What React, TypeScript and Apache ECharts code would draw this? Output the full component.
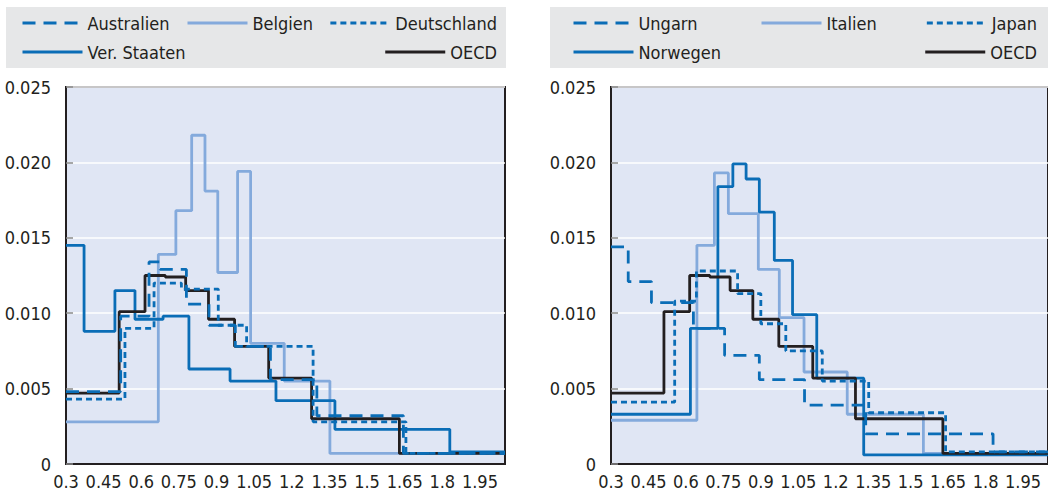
import React, { useEffect, useRef } from "react";
import * as echarts from "echarts";

const FONT = "'Liberation Sans Narrow', 'Arial Narrow', 'DejaVu Sans Condensed', sans-serif";
const TEXT = "#231f20";
const BLUE = "#0a6db6";
const LIGHT = "#84aadc";
const BLACK = "#231f20";

// x range and ticks
const xMin = 0.3;
const xMax = 2.05;
const xStep = 0.15;
const yMax = 0.025;
const yStep = 0.005;

// Left panel
const australien: [number, number][] = [
  [0.3, 0.0048], [0.518, 0.0098], [0.631, 0.0134], [0.675, 0.0129], [0.78, 0.0106],
  [0.87, 0.0092], [0.975, 0.0078], [1.115, 0.0056], [1.3, 0.0032], [1.645, 0.0007], [2.05, 0.0007],
];
const belgien: [number, number][] = [
  [0.3, 0.0028], [0.668, 0.0139], [0.738, 0.0168], [0.801, 0.0218], [0.854, 0.0181],
  [0.905, 0.0127], [0.984, 0.0194], [1.036, 0.008], [1.17, 0.0055], [1.352, 0.0007], [2.05, 0.0007],
];
const deutschland: [number, number][] = [
  [0.3, 0.0043], [0.535, 0.009], [0.651, 0.012], [0.76, 0.0116], [0.907, 0.0092],
  [1.02, 0.0078], [1.285, 0.0028], [1.655, 0.0007], [2.05, 0.0007],
];
const verStaaten: [number, number][] = [
  [0.3, 0.0145], [0.372, 0.0088], [0.495, 0.0115], [0.575, 0.0096], [0.687, 0.0098],
  [0.79, 0.0063], [0.954, 0.0055], [1.137, 0.0042], [1.372, 0.0023], [1.83, 0.0008], [2.05, 0.0008],
];
const oecd: [number, number][] = [
  [0.3, 0.0047], [0.512, 0.0101], [0.615, 0.0125], [0.696, 0.0124], [0.777, 0.0115],
  [0.868, 0.0096], [0.972, 0.0078], [1.108, 0.0057], [1.279, 0.003], [1.629, 0.0007], [2.05, 0.0007],
];

// Right panel
const ungarn: [number, number][] = [
  [0.3, 0.0144], [0.369, 0.0121], [0.462, 0.0107], [0.63, 0.009], [0.755, 0.0072],
  [0.894, 0.0056], [1.075, 0.0039], [1.32, 0.002], [1.83, 0.0008], [2.05, 0.0008],
];
const italien: [number, number][] = [
  [0.3, 0.0029], [0.644, 0.0145], [0.714, 0.0193], [0.77, 0.0166], [0.89, 0.0129],
  [0.974, 0.0097], [1.073, 0.0061], [1.246, 0.0033], [1.551, 0.0007], [2.05, 0.0007],
];
const japan: [number, number][] = [
  [0.3, 0.0041], [0.555, 0.0108], [0.642, 0.0128], [0.807, 0.0113], [0.9, 0.0093],
  [1.0, 0.0075], [1.146, 0.0055], [1.332, 0.0034], [1.64, 0.0008], [2.05, 0.0008],
];
const norwegen: [number, number][] = [
  [0.3, 0.0033], [0.618, 0.009], [0.728, 0.0184], [0.788, 0.0199], [0.841, 0.0189],
  [0.894, 0.0167], [0.954, 0.0135], [1.027, 0.0099], [1.124, 0.0057], [1.312, 0.0006], [2.05, 0.0006],
];

const LONG = [13, 8];
const SHORT = [6, 4];

function line(name: string, data: [number, number][], color: string, type: any, idx: number, z: number) {
  return {
    name,
    type: "line",
    step: "end",
    data,
    xAxisIndex: idx,
    yAxisIndex: idx,
    symbol: "none",
    z,
    lineStyle: { color, width: 2.8, type },
    itemStyle: { color },
  };
}

function legend(name: string, pos: any, top: number) {
  return {
    data: [name],
    top,
    ...pos,
    padding: 0,
    itemWidth: 60,
    itemHeight: 20,
    itemGap: 0,
    selectedMode: false,
    itemStyle: { opacity: 0, color: "transparent", borderColor: "transparent", borderWidth: 0 },
    lineStyle: { width: 3 },
    textStyle: { color: TEXT, fontSize: 18, fontFamily: FONT, lineHeight: 20 },
  };
}

export default function App() {
  const ref = useRef<HTMLDivElement>(null);
  useEffect(() => {
    if (!ref.current) return;
    const chart = echarts.init(ref.current, undefined, { renderer: "svg" });
    const xAxis = (gi: number) => ({
      type: "value",
      gridIndex: gi,
      min: xMin,
      max: xMax,
      interval: xStep,
      axisLine: { show: true, onZero: false, lineStyle: { color: TEXT, width: 2 } },
      axisTick: { show: false },
      splitLine: { show: false },
      axisLabel: {
        color: TEXT,
        fontSize: 18,
        fontFamily: FONT,
        margin: 8,
        showMaxLabel: false,
        formatter: (v: number) => String(parseFloat(v.toFixed(2))),
      },
    });
    const yAxis = (gi: number) => ({
      type: "value",
      gridIndex: gi,
      min: 0,
      max: yMax,
      interval: yStep,
      axisLine: { show: true, lineStyle: { color: TEXT, width: 2 } },
      axisTick: { show: true, inside: true, length: 7, lineStyle: { color: "#8a8a8a", width: 1.5 } },
      splitLine: { show: true, lineStyle: { color: "#ffffff", width: 1.5 } },
      axisLabel: {
        color: TEXT,
        fontSize: 18,
        fontFamily: FONT,
        margin: 15,
        formatter: (v: number) => (v === 0 ? "0" : v.toFixed(3)),
      },
    });
    const gridBase = { top: 87, width: 439, height: 377, show: true, backgroundColor: "#e0e6f4", borderColor: TEXT, borderWidth: 2 };
    chart.setOption({
      animation: false,
      grid: [
        { ...gridBase, left: 66 },
        { ...gridBase, left: 611 },
      ],
      xAxis: [xAxis(0), xAxis(1)],
      yAxis: [yAxis(0), yAxis(1)],
      graphic: [
        { type: "rect", shape: { x: 6, y: 7, width: 500, height: 61 }, style: { fill: "#e6e7e8" }, z: -10 },
        { type: "rect", shape: { x: 550, y: 7, width: 510, height: 61 }, style: { fill: "#e6e7e8" }, z: -10 },
      ],
      legend: [
        legend("Australien", { left: 21 }, 13),
        legend("Belgien", { left: 186 }, 13),
        legend("Deutschland", { right: 551 }, 13),
        legend("Ver. Staaten", { left: 21 }, 42),
        legend("OECD", { right: 551 }, 42),
        legend("Ungarn", { left: 572 }, 13),
        legend("Italien", { left: 760 }, 13),
        legend("Japan", { right: 11 }, 13),
        legend("Norwegen", { left: 572 }, 42),
        legend("OECD", { right: 11 }, 42),
      ],
      series: [
        line("Belgien", belgien, LIGHT, "solid", 0, 2),
        line("Ver. Staaten", verStaaten, BLUE, "solid", 0, 3),
        line("OECD", oecd, BLACK, "solid", 0, 4),
        line("Deutschland", deutschland, BLUE, SHORT, 0, 5),
        line("Australien", australien, BLUE, LONG, 0, 6),
        line("Italien", italien, LIGHT, "solid", 1, 2),
        line("Norwegen", norwegen, BLUE, "solid", 1, 3),
        line("OECD", oecd, BLACK, "solid", 1, 4),
        line("Japan", japan, BLUE, SHORT, 1, 5),
        line("Ungarn", ungarn, BLUE, LONG, 1, 6),
      ],
    });
    return () => chart.dispose();
  }, []);
  return <div ref={ref} style={{ position: "absolute", left: 0, top: 0, width: 1048, height: 492 }} />;
}
